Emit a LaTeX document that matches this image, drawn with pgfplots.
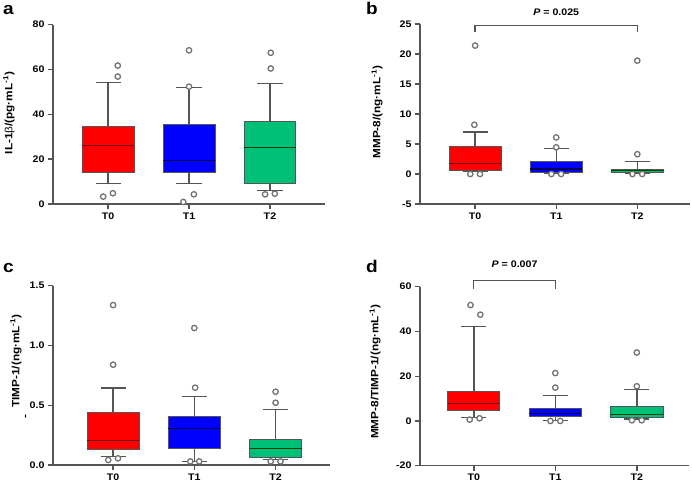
\documentclass[border=0pt]{standalone}
\usepackage{fontspec}
\setmainfont[FakeStretch=1.12]{Liberation Sans}
\usepackage{pgfplots}
\pgfplotsset{compat=1.18}
\usepgfplotslibrary{statistics}

\definecolor{bred}{RGB}{255,0,0}
\definecolor{bblue}{RGB}{0,0,255}
\definecolor{bgreen}{RGB}{0,192,120}
\definecolor{axgray}{RGB}{85,85,85}
\definecolor{outgray}{RGB}{115,115,115}

\pgfplotsset{
  panel/.style={
    scale only axis,
    axis x line*=bottom, axis y line*=left,
    axis line style={-,axgray,line width=1.4pt},
    tick style={axgray,line width=1.4pt},
    tick align=outside, major tick length=5pt,
    xtick={0,1,2}, xticklabels={T0,T1,T2},
    ticklabel style={font=\bfseries\fontsize{9.5}{11}\selectfont},
    /pgf/number format/assume math mode=true,
    ylabel style={font=\bfseries\fontsize{10.5}{12}\selectfont,anchor=center},
    clip=false,
  },
  bx/.style={boxplot prepared={#1}, line width=0.8pt, draw=axgray,
    boxplot/draw direction=y,
    boxplot/box extend=0.64, boxplot/whisker extend=0.31,
    boxplot/every whisker/.style={axgray,line width=1.4pt},
    boxplot/every median/.style={line width=1.1pt}},
  outl/.style={only marks, mark=*, mark size=2.7pt,
    mark options={fill=white,draw=outgray,line width=1.3pt}},
}

\begin{document}
\begin{tikzpicture}
\useasboundingbox (0,0) rectangle (692pt,488pt);

% panel a
\begin{axis}[panel, at={(53pt,284pt)}, anchor=south west, width=272pt, height=179.5pt,
  xmin=-0.68, xmax=2.68, ymin=0, ymax=80, ytick={0,20,40,60,80},
  ylabel={IL-1{\mdseries β}/(pg·mL\textsuperscript{-1})},
  ylabel style={at={(axis description cs:-0.162,0.507)}}]
\addplot[bx={draw position=0,lower whisker=9.2,lower quartile=14.3,median=25.9,upper quartile=34.5,upper whisker=54.1}, fill=bred, boxplot/every median/.append style={red!45!black}] table[row sep=\\,y index=0] {\\};
\addplot[bx={draw position=1,lower whisker=9.1,lower quartile=14.1,median=19.5,upper quartile=35.5,upper whisker=51.9}, fill=bblue, boxplot/every median/.append style={blue!30!black}] table[row sep=\\,y index=0] {\\};
\addplot[bx={draw position=2,lower whisker=5.9,lower quartile=9.2,median=25.1,upper quartile=36.6,upper whisker=53.8}, fill=bgreen, boxplot/every median/.append style={green!25!black}] table[row sep=\\,y index=0] {\\};
\addplot[outl] coordinates {(0.12,61.7) (0.12,56.8) (-0.06,3.3) (0.06,4.8)
  (1,68.5) (1,52.3) (0.93,0.9) (1.06,4.3)
  (2.01,67.4) (2.01,60.4) (1.94,4.3) (2.06,4.6)};
\end{axis}

% panel b
\begin{axis}[panel, at={(420pt,284pt)}, anchor=south west, width=270pt, height=180pt,
  xmin=-0.68, xmax=2.65, ymin=-5, ymax=25, ytick={-5,0,5,10,15,20,25},
  ylabel={MMP-8/(ng·mL\textsuperscript{-1})},
  ylabel style={at={(axis description cs:-0.159,0.51)}}]
\addplot[bx={draw position=0,lower whisker=0.5,lower quartile=0.67,median=1.78,upper quartile=4.56,upper whisker=7.0}, fill=bred, boxplot/every median/.append style={red!45!black}] table[row sep=\\,y index=0] {\\};
\addplot[bx={draw position=1,lower whisker=0.1,lower quartile=0.2,median=0.83,upper quartile=2.17,upper whisker=4.3}, fill=bblue, boxplot/every median/.append style={blue!30!black}] table[row sep=\\,y index=0] {\\};
\addplot[bx={draw position=2,lower whisker=0.2,lower quartile=0.28,median=0.56,upper quartile=0.72,upper whisker=2.06}, fill=bgreen, boxplot/every median/.append style={green!25!black}] table[row sep=\\,y index=0] {\\};
\addplot[outl] coordinates {(0,21.4) (-0.01,8.2) (-0.06,0) (0.06,0)
  (1,6.1) (1,4.45) (0.94,0) (1.06,0)
  (2,18.9) (2,3.3) (1.94,0) (2.06,0)};
\draw[axgray,line width=1.3pt] (axis cs:0,23.6) -- (axis cs:0,24.7) -- (axis cs:2,24.7) -- (axis cs:2,23.6);
\node[font=\bfseries\fontsize{9.5}{11}\selectfont] at (axis cs:1,26.9) {\textit{P} = 0.025};
\end{axis}

% panel c
\begin{axis}[panel, at={(53pt,23pt)}, anchor=south west, width=277pt, height=179.3pt,
  xmin=-0.74, xmax=2.67, ymin=0, ymax=1.5, ytick={0,0.5,1,1.5},
  yticklabel style={/pgf/number format/.cd,fixed,fixed zerofill,precision=1},
  ylabel={TIMP-1/(ng·mL\textsuperscript{-1})},
  ylabel style={at={(axis description cs:-0.134,0.58)}}]
\addplot[bx={draw position=0,lower whisker=0.07,lower quartile=0.134,median=0.204,upper quartile=0.443,upper whisker=0.644}, fill=bred, boxplot/every median/.append style={red!45!black}] table[row sep=\\,y index=0] {\\};
\addplot[bx={draw position=1,lower whisker=0.03,lower quartile=0.137,median=0.304,upper quartile=0.404,upper whisker=0.574}, fill=bblue, boxplot/every median/.append style={blue!30!black}] table[row sep=\\,y index=0] {\\};
\addplot[bx={draw position=2,lower whisker=0.047,lower quartile=0.064,median=0.137,upper quartile=0.212,upper whisker=0.463}, fill=bgreen, boxplot/every median/.append style={green!25!black}] table[row sep=\\,y index=0] {\\};
\addplot[outl] coordinates {(0,1.338) (0,0.839) (-0.06,0.042) (0.06,0.056)
  (1,1.146) (1.01,0.647) (0.95,0.03) (1.06,0.03)
  (2,0.613) (2,0.521) (1.94,0.03) (2.06,0.03)};
\node[font=\bfseries\fontsize{10.5}{12}\selectfont,rotate=90] at (axis description cs:-0.095,0.27) {-};
\end{axis}

% panel d
\begin{axis}[panel, at={(420pt,22.3pt)}, anchor=south west, width=269pt, height=179pt,
  xmin=-0.66, xmax=2.64, ymin=-20, ymax=60, ytick={-20,0,20,40,60},
  ylabel={MMP-8/TIMP-1/(ng·mL\textsuperscript{-1})},
  ylabel style={at={(axis description cs:-0.167,0.526)}}]
\addplot[bx={draw position=0,lower whisker=1.5,lower quartile=4.7,median=7.9,upper quartile=13.4,upper whisker=42.3}, fill=bred, boxplot/every median/.append style={red!45!black}] table[row sep=\\,y index=0] {\\};
\addplot[bx={draw position=1,lower whisker=0.3,lower quartile=1.9,median=3.2,upper quartile=5.8,upper whisker=11.3}, fill=bblue, boxplot/every median/.append style={blue!30!black}] table[row sep=\\,y index=0] {\\};
\addplot[bx={draw position=2,lower whisker=0.8,lower quartile=1.8,median=2.9,upper quartile=6.5,upper whisker=14.0}, fill=bgreen, boxplot/every median/.append style={green!25!black}] table[row sep=\\,y index=0] {\\};
\addplot[outl] coordinates {(-0.04,51.8) (0.08,47.5) (-0.05,0.6) (0.07,1.2)
  (1,21.4) (1,14.9) (0.94,0) (1.06,0)
  (2,30.6) (2,15.5) (1.94,0.3) (2.06,0.3)};
\draw[axgray,line width=1.3pt] (axis cs:0,59) -- (axis cs:0,62.7) -- (axis cs:1,62.7) -- (axis cs:1,59);
\node[font=\bfseries\fontsize{9.5}{11}\selectfont] at (axis cs:0.5,69.9) {\textit{P} = 0.007};
\end{axis}

\node[anchor=base west,font=\bfseries\fontsize{17}{20}\selectfont,inner sep=0] at (3pt,473pt) {a};
\node[anchor=base west,font=\bfseries\fontsize{17}{20}\selectfont,inner sep=0] at (366pt,473pt) {b};
\node[anchor=base west,font=\bfseries\fontsize{17}{20}\selectfont,inner sep=0] at (3pt,216pt) {c};
\node[anchor=base west,font=\bfseries\fontsize{17}{20}\selectfont,inner sep=0] at (366pt,216pt) {d};
\end{tikzpicture}
\end{document}
